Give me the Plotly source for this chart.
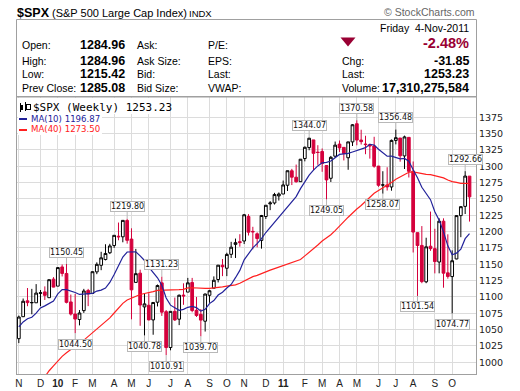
import plotly.graph_objects as go
import pandas as pd

# ---------------- data ----------------
weeks = [
"2009-11-06","2009-11-13","2009-11-20","2009-11-27","2009-12-04","2009-12-11","2009-12-18","2009-12-24","2009-12-31",
"2010-01-08","2010-01-15","2010-01-22","2010-01-29","2010-02-05","2010-02-12","2010-02-19","2010-02-26",
"2010-03-05","2010-03-12","2010-03-19","2010-03-26","2010-04-01","2010-04-09","2010-04-16","2010-04-23","2010-04-30",
"2010-05-07","2010-05-14","2010-05-21","2010-05-28","2010-06-04","2010-06-11","2010-06-18","2010-06-25",
"2010-07-02","2010-07-09","2010-07-16","2010-07-23","2010-07-30","2010-08-06","2010-08-13","2010-08-20","2010-08-27",
"2010-09-03","2010-09-10","2010-09-17","2010-09-24","2010-10-01","2010-10-08","2010-10-15","2010-10-22","2010-10-29",
"2010-11-05","2010-11-12","2010-11-19","2010-11-26","2010-12-03","2010-12-10","2010-12-17","2010-12-23","2010-12-31",
"2011-01-07","2011-01-14","2011-01-21","2011-01-28","2011-02-04","2011-02-11","2011-02-18","2011-02-25",
"2011-03-04","2011-03-11","2011-03-18","2011-03-25","2011-04-01","2011-04-08","2011-04-15","2011-04-21","2011-04-29",
"2011-05-06","2011-05-13","2011-05-20","2011-05-27","2011-06-03","2011-06-10","2011-06-17","2011-06-24",
"2011-07-01","2011-07-08","2011-07-15","2011-07-22","2011-07-29","2011-08-05","2011-08-12","2011-08-19","2011-08-26",
"2011-09-02","2011-09-09","2011-09-16","2011-09-23","2011-09-30","2011-10-07","2011-10-14","2011-10-21","2011-10-28","2011-11-04"]

opens = [1036.2,1069.8,1094.1,1091.1,1091.1,1105.5,1107.8,1098.9,1127.3,
1116.6,1145.96,1136.0,1092.4,1073.9,1065.5,1079.1,1110.0,
1105.4,1138.4,1148.5,1157.3,1167.7,1178.7,1193.0,1192.1,1217.1,
1188.6,1122.3,1136.5,1084.8,1087.3,1064.9,1092.0,1121.6,
1077.5,1022.6,1078.0,1066.0,1102.9,1107.5,1122.1,1079.6,1073.4,
1062.9,1102.6,1113.4,1126.7,1148.6,1144.0,1165.3,1180.5,1184.7,
1185.7,1223.2,1200.4,1196.7,1186.6,1223.2,1242.5,1243.9,1254.7,
1257.6,1271.0,1293.2,1283.3,1276.5,1311.9,1328.7,1340.4,
1321.6,1322.7,1301.2,1281.7,1315.5,1334.0,1329.0,1313.1,1337.4,
1365.2,1340.2,1334.1,1333.1,1331.1,1300.3,1271.3,1271.5,
1268.4,1339.6,1343.3,1315.9,1344.3,1292.6,1198.5,1178.9,1123.2,
1177.7,1173.97,1153.5,1216.0,1136.9,1131.2,1158.2,1224.5,1238.7,1284.96]

highs = [1071.5,1097.6,1113.7,1112.4,1119.7,1110.7,1116.2,1126.5,1130.4,
1145.4,1149.7,1150.45,1103.7,1104.7,1080.0,1112.4,1112.4,
1139.0,1153.0,1169.2,1180.7,1181.4,1194.7,1213.9,1217.3,1219.8,
1205.1,1173.6,1141.8,1104.6,1105.7,1092.0,1119.1,1131.23,
1080.0,1078.0,1099.1,1103.7,1120.9,1129.2,1129.2,1100.1,1081.6,
1105.1,1110.9,1131.5,1148.9,1158.1,1167.7,1184.4,1189.4,1196.1,
1227.1,1226.8,1207.4,1198.9,1225.6,1240.4,1246.7,1259.4,1260.0,
1278.2,1293.3,1296.1,1302.7,1311.0,1330.3,1344.07,1340.4,
1332.3,1327.3,1301.2,1315.9,1337.9,1339.5,1329.0,1337.5,1364.6,
1370.58,1356.0,1346.8,1334.6,1345.2,1300.6,1292.5,1298.6,
1341.0,1356.48,1343.3,1347.0,1344.3,1307.4,1198.5,1208.5,1190.7,
1230.7,1204.4,1220.4,1220.4,1195.9,1171.4,1224.6,1239.0,1292.66,1284.96]

lows = [1029.4,1069.3,1085.9,1073.5,1091.1,1085.9,1095.4,1098.9,1114.8,
1116.6,1131.4,1090.2,1071.6,1044.5,1056.5,1075.6,1086.0,
1105.4,1134.9,1141.0,1156.0,1165.7,1175.1,1186.8,1183.7,1181.6,
1065.8,1122.3,1055.9,1040.78,1064.3,1042.2,1085.5,1071.0,
1010.91,1018.4,1063.3,1056.9,1088.0,1107.5,1076.6,1069.4,1039.7,
1047.1,1091.1,1113.4,1122.3,1131.9,1131.9,1159.7,1159.7,1177.0,
1181.0,1194.1,1173.0,1176.0,1174.0,1219.4,1232.9,1241.5,1247.6,
1257.6,1262.2,1271.3,1275.1,1276.5,1307.6,1324.6,1294.3,
1302.3,1291.6,1249.05,1276.0,1313.0,1322.0,1309.0,1294.7,1331.1,
1332.2,1333.4,1318.5,1311.8,1297.9,1268.6,1258.07,1262.9,
1262.7,1333.6,1307.1,1295.9,1282.9,1168.1,1101.54,1121.1,1121.1,
1170.6,1136.1,1136.2,1114.2,1128.0,1074.77,1157.7,1191.5,1227.0,1215.42]

closes = [1069.30,1093.48,1091.38,1091.49,1105.98,1106.41,1102.47,1126.48,1115.10,
1144.98,1136.03,1091.76,1073.87,1066.19,1075.51,1109.17,1104.49,
1138.70,1149.99,1159.90,1166.59,1178.10,1194.37,1192.13,1217.28,1186.69,
1110.88,1135.68,1087.69,1089.41,1064.88,1091.60,1117.51,1076.76,
1022.58,1077.96,1064.88,1102.66,1101.60,1121.64,1079.25,1071.69,1064.59,
1104.51,1109.55,1125.59,1148.67,1146.24,1165.15,1176.19,1183.08,1183.26,
1225.85,1199.21,1199.73,1189.40,1224.71,1240.40,1243.91,1256.77,1257.64,
1271.50,1293.24,1283.35,1276.34,1310.87,1329.15,1343.01,1319.88,
1321.15,1304.28,1279.21,1313.80,1332.41,1328.17,1319.68,1337.38,1363.61,
1340.20,1337.77,1333.27,1331.10,1300.16,1270.98,1271.50,1268.45,
1339.67,1343.80,1316.14,1345.02,1292.28,1199.38,1178.81,1123.53,1176.80,
1173.97,1154.23,1216.01,1136.43,1131.42,1155.46,1224.58,1238.25,1285.09,1253.23]

# weekly closes before the visible window (Feb 6 - Oct 30 2009), used for the moving averages
prior_closes = [868.60,826.84,770.05,735.09,683.38,756.55,768.54,815.94,842.50,856.56,
869.60,866.23,877.52,929.23,882.88,887.00,919.14,940.09,946.21,921.23,918.90,896.42,
879.13,940.38,979.26,987.48,1010.48,1004.09,1026.13,1028.93,1016.40,1042.73,1068.30,
1044.38,1025.21,1071.49,1087.68,1079.60,1036.19]

tick_weeks = ["2009-11-06","2009-12-11","2010-01-08","2010-02-05","2010-03-05","2010-04-09","2010-05-07",
"2010-06-04","2010-07-09","2010-08-06","2010-09-10","2010-10-08","2010-11-05","2010-12-10","2011-01-07",
"2011-02-11","2011-03-11","2011-04-08","2011-05-06","2011-06-10","2011-07-08","2011-08-05","2011-09-09","2011-10-07"]
tick_labels = ["N","D","<b>10</b>","F","M","A","M","J","J","A","S","O","N","D","<b>11</b>",
"F","M","A","M","J","J","A","S","O"]

price_ticks = [1000,1025,1050,1075,1100,1125,1150,1175,1200,1225,1250,1275,1300,1325,1350,1375]

label_weeks = ["2010-01-22","2010-02-05","2010-04-30","2010-05-28","2010-06-25","2010-07-02","2010-08-27",
"2011-02-18","2011-03-18","2011-05-06","2011-06-17","2011-07-08","2011-08-12","2011-10-07","2011-10-28"]
label_values = [1150.45,1044.50,1219.80,1040.78,1131.23,1010.91,1039.70,
1344.07,1249.05,1370.58,1258.07,1356.48,1101.54,1074.77,1292.66]
label_kinds = ["high","low","high","low","high","low","low","high","low","high","low","high","low","low","high"]

# ---------------- derived ----------------
all_closes = pd.Series(prior_closes + closes)
ma10 = all_closes.rolling(10).mean().iloc[len(prior_closes):].tolist()
ma40 = all_closes.rolling(40).mean().iloc[len(prior_closes):].tolist()

RED = "#d4003c"
GRID = "#dcdcdc"
L, R, T, B = 17, 476, 97, 374
def fx(x): return (x - L) / (R - L)
def fy(y): return (B - y) / (B - T)

fig = go.Figure()
fig.add_trace(go.Candlestick(
    x=weeks, open=opens, high=highs, low=lows, close=closes,
    increasing=dict(line=dict(color="black", width=1), fillcolor="white"),
    decreasing=dict(line=dict(color=RED, width=1), fillcolor=RED),
    whiskerwidth=0, hoverinfo="skip", showlegend=False))
fig.add_trace(go.Scatter(x=weeks, y=ma40, mode="lines", line=dict(color="#ff2020", width=1.2),
                         hoverinfo="skip", showlegend=False))
fig.add_trace(go.Scatter(x=weeks, y=ma10, mode="lines", line=dict(color="#22229a", width=1.2),
                         hoverinfo="skip", showlegend=False))

ann = []
# price labels on highs / lows
for w, v, k in zip(label_weeks, label_values, label_kinds):
    ann.append(dict(x=w, y=v, xref="x", yref="y", text=f"{v:.2f}", showarrow=True,
                    ax=0, ay=(-12 if k == "high" else 11), arrowhead=0, arrowwidth=1,
                    arrowcolor="#b8b8b8", bordercolor="#b8b8b8", borderwidth=1, borderpad=0,
                    bgcolor="white", font=dict(family="DejaVu Sans", size=8, color="#111")))

def txt(x, y, s, size=10.5, color="black", anchor="left", family="Liberation Sans", bold=False):
    if bold:
        s = f"<b>{s}</b>"
    ann.append(dict(x=fx(x), y=fy(y), xref="paper", yref="paper", text=s, showarrow=False,
                    xanchor=anchor, yanchor="middle",
                    font=dict(family=family, size=size, color=color)))

def box(x0, y0, x1, y1, color, border=None):
    ann.append(dict(x=fx(x0), y=fy(y0), xref="paper", yref="paper", text=" ", showarrow=False,
                    xanchor="left", yanchor="top", width=max(x1 - x0, 1), height=max(y1 - y0, 1),
                    bgcolor=color, borderpad=0,
                    bordercolor=border if border else color, borderwidth=1 if border else 0,
                    font=dict(size=1)))

# header
txt(14.5, 13, "$SPX", size=12.5, bold=True, family="Liberation Sans")
txt(49.5, 13.5, "(S&amp;P 500 Large Cap Index)", size=11)
txt(187, 13.5, "INDX", size=9.5)
txt(477, 12, "© StockCharts.com", size=10.5, color="#666", anchor="right")

# info panel
rows = [45, 61, 74.5, 88]
for y, lab, val in zip(rows, ["Open:", "High:", "Low:", "Prev Close:"],
                       ["1284.96", "1284.96", "1215.42", "1285.08"]):
    txt(20, y, lab)
    txt(127, y, val, size=12.5, bold=True, anchor="right")
for y, lab in zip(rows, ["Ask:", "Ask Size:", "Bid:", "Bid Size:"]):
    txt(134.5, y, lab)
for y, lab in zip(rows, ["P/E:", "EPS:", "Last:", "VWAP:"]):
    txt(206, y, lab)
txt(471, 28, "Friday\u00a0\u00a04-Nov-2011", anchor="right")
txt(471, 43, "-2.48%", size=14.5, bold=True, color="#990033", anchor="right")
for y, lab, val in zip(rows[1:], ["Chg:", "Last:", "Volume:"], ["-31.85", "1253.23", "17,310,275,584"]):
    txt(339.5, y, lab)
    txt(471, y, val, size=12.5, bold=True, anchor="right")

# legend block (white background)
box(17.5, 98, 166, 113.5, "white")
box(17.5, 113.5, 101, 135, "white")
box(19.5, 103, 20.5, 112, "black")
box(20.5, 105, 22.5, 110, "black")
box(24.5, 102, 25.5, 111, "black")
box(25.5, 104, 28.5, 108, "white", border="black")
txt(30.5, 107.5, "$SPX (Weekly) 1253.23", size=11, family="DejaVu Sans Mono")
box(19, 118, 27, 120, "#22229a")
txt(28.5, 118.8, "MA(10) 1196.87", size=8.6, color="#22229a", family="DejaVu Sans")
box(19, 128.5, 27, 130.5, "#ff2020")
txt(28.5, 129.3, "MA(40) 1273.50", size=8.6, color="#ff2020", family="DejaVu Sans")

shapes = [
    dict(type="rect", xref="paper", yref="paper", x0=fx(16.5), x1=fx(476.5), y0=fy(97), y1=fy(19.5),
         line=dict(color="#a0a0a0", width=1)),
    dict(type="path", xref="paper", yref="paper",
         path=f"M {fx(340.5)} {fy(37.5)} L {fx(355.5)} {fy(37.5)} L {fx(348)} {fy(46.5)} Z",
         fillcolor="#990033", line=dict(width=0)),
]

fig.update_layout(
    width=520, height=391, margin=dict(l=L, r=520 - R, t=T, b=391 - B, autoexpand=False),
    paper_bgcolor="white", plot_bgcolor="white", showlegend=False, hovermode=False,
    boxgap=0.1, annotations=ann, shapes=shapes,
    xaxis=dict(type="category", categoryorder="array", categoryarray=weeks, automargin=False,
               range=[-0.42, 105.5], tickmode="array", tickvals=tick_weeks, ticktext=tick_labels,
               showgrid=True, gridcolor=GRID, gridwidth=1, showline=True, mirror=True,
               linecolor="#a0a0a0", ticks="", zeroline=False, rangeslider=dict(visible=False),
               tickfont=dict(family="Liberation Sans", size=10, color="#222"), fixedrange=True),
    yaxis=dict(side="right", range=[982.1, 1406.1], tickmode="array", tickvals=price_ticks,
               automargin=False,
               showgrid=True, gridcolor=GRID, gridwidth=1, showline=True, mirror=True,
               linecolor="#a0a0a0", ticks="", zeroline=False, ticklabelstandoff=0,
               tickfont=dict(family="DejaVu Sans", size=9.5, color="#222"), fixedrange=True),
)

fig.write_html("out.html", config={"displayModeBar": False},
               post_script="document.body.style.margin='0px';document.body.style.overflow='hidden';")
